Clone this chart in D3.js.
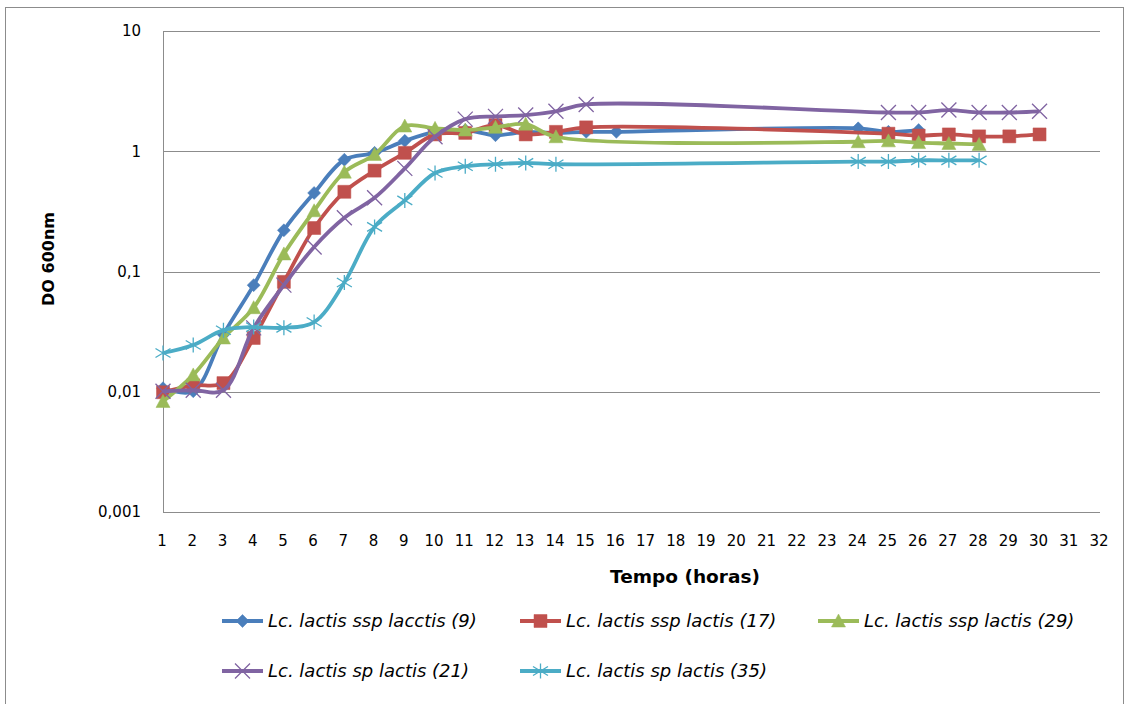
<!DOCTYPE html>
<html>
<head>
<meta charset="utf-8">
<script src="https://cdn.jsdelivr.net/npm/d3@7"></script>
<style>
  body { margin: 0; background: #fff; }
  svg { display: block; font-family: "DejaVu Sans", sans-serif; }
</style>
</head>
<body>
<div id="chart"></div>
<script>
// hours measured for each strain
const hoursBlue   = [1,2,3,4,5,6,7,8,9,10,11,12,13,14,15,16,24,25,26]
const hoursRed    = [1,2,3,4,5,6,7,8,9,10,11,12,13,14,15,25,26,27,28,29,30]
const hoursGreen  = [1,2,3,4,5,6,7,8,9,10,11,12,13,14,24,25,26,27,28]
const hoursPurple = [1,2,3,4,5,6,7,8,9,10,11,12,13,14,15,25,26,27,28,29,30]
const hoursCyan   = [1,2,3,4,5,6,7,8,9,10,11,12,13,14,24,25,26,27,28]

// DO 600nm readings
const doBlue   = [0.0107,0.0101,0.03,0.077,0.22,0.45,0.85,0.97,1.22,1.45,1.5,1.36,1.45,1.42,1.45,1.45,1.55,1.45,1.5]
const doRed    = [0.0099,0.0113,0.0118,0.028,0.082,0.23,0.46,0.69,0.97,1.38,1.42,1.65,1.38,1.45,1.58,1.4,1.35,1.38,1.33,1.33,1.38]
const doGreen  = [0.0083,0.0138,0.028,0.05,0.14,0.32,0.67,0.94,1.62,1.55,1.5,1.58,1.68,1.32,1.2,1.22,1.18,1.16,1.14]
const doPurple = [0.0101,0.0103,0.0103,0.034,0.077,0.16,0.28,0.41,0.72,1.32,1.85,1.95,2.0,2.15,2.45,2.1,2.1,2.2,2.1,2.1,2.15]
const doCyan   = [0.021,0.0245,0.0325,0.0345,0.034,0.038,0.081,0.235,0.39,0.66,0.75,0.78,0.8,0.78,0.82,0.82,0.84,0.84,0.84]

const seriesNames = [
  "Lc. lactis ssp lacctis (9)",
  "Lc. lactis ssp lactis (17)",
  "Lc. lactis ssp lactis (29)",
  "Lc. lactis sp lactis (21)",
  "Lc. lactis sp lactis (35)"
]
const seriesColors = ["#4a7ebb", "#c0504d", "#9bbb59", "#8064a2", "#4bacc6"]
const seriesMarkers = ["diamond", "square", "triangle", "cross", "star"]

const xTicks = d3.range(1, 33)
const yTicks = [0.001, 0.01, 0.1, 1, 10]
const yTickLabels = ["0,001", "0,01", "0,1", "1", "10"]

const allHours = [hoursBlue, hoursRed, hoursGreen, hoursPurple, hoursCyan]
const allDo = [doBlue, doRed, doGreen, doPurple, doCyan]

const series = seriesNames.map(function(name, i) {
  return {
    name: name,
    color: seriesColors[i],
    marker: seriesMarkers[i],
    points: allHours[i].map(function(h, j) { return {x: h, y: allDo[i][j]} })
  }
})

const width = 1129, height = 704
const margin = {top: 31, right: 29, bottom: 192, left: 163}

const x = d3.scaleLinear()
  .domain([1, 32])
  .range([margin.left, width - margin.right])

const y = d3.scaleLog()
  .domain([0.001, 10])
  .range([height - margin.bottom, margin.top])

const svg = d3.select("#chart").append("svg")
  .attr("width", width)
  .attr("height", height)

// outer chart border
svg.append("rect")
  .attr("x", 5.5)
  .attr("y", 7.5)
  .attr("width", 1118)
  .attr("height", 705)
  .style("fill", "none")
  .style("stroke", "#8c8c8c")
  .style("stroke-width", 1)

// horizontal gridlines
svg.append("g")
  .selectAll("line")
  .data(yTicks.slice(1))
  .enter().append("line")
    .attr("x1", x(1))
    .attr("x2", x(32))
    .attr("y1", function(d) { return Math.round(y(d)) + 0.5 })
    .attr("y2", function(d) { return Math.round(y(d)) + 0.5 })
    .style("stroke", "#8c8c8c")
    .style("stroke-width", 1)

// axes lines
svg.append("line")
  .attr("x1", x(1) + 0.5).attr("x2", x(1) + 0.5)
  .attr("y1", y(10)).attr("y2", y(0.001))
  .style("stroke", "#8c8c8c")
svg.append("line")
  .attr("x1", x(1)).attr("x2", x(32))
  .attr("y1", Math.round(y(0.001)) + 0.5).attr("y2", Math.round(y(0.001)) + 0.5)
  .style("stroke", "#8c8c8c")

// y tick labels
svg.append("g")
  .selectAll("text")
  .data(yTicks)
  .enter().append("text")
    .attr("x", 141)
    .attr("y", function(d) { return y(d) })
    .attr("dy", "0.36em")
    .attr("text-anchor", "end")
    .style("font-size", "15px")
    .style("fill", "#000")
    .text(function(d, i) { return yTickLabels[i] })

// x tick labels
svg.append("g")
  .selectAll("text")
  .data(xTicks)
  .enter().append("text")
    .attr("x", function(d) { return x(d) - 1 })
    .attr("y", 546)
    .attr("text-anchor", "middle")
    .style("font-size", "15px")
    .style("fill", "#000")
    .text(function(d) { return d })

// axis titles
svg.append("text")
  .attr("x", 685)
  .attr("y", 583)
  .attr("text-anchor", "middle")
  .style("font-size", "18.5px")
  .style("font-weight", "bold")
  .text("Tempo (horas)")

svg.append("text")
  .attr("transform", "translate(54,259) rotate(-90)")
  .attr("text-anchor", "middle")
  .style("font-size", "16px")
  .style("font-weight", "bold")
  .text("DO 600nm")

function markerPath(type, r) {
  if (type === "diamond") return "M0," + (-r) + "L" + r + ",0L0," + r + "L" + (-r) + ",0Z"
  if (type === "square") return "M" + (-r) + "," + (-r) + "h" + (2 * r) + "v" + (2 * r) + "h" + (-2 * r) + "Z"
  if (type === "triangle") return "M0," + (-r - 1) + "L" + (r + 1) + "," + r + "L" + (-r - 1) + "," + r + "Z"
  if (type === "cross") return "M" + (-r) + "," + (-r) + "L" + r + "," + r + "M" + (-r) + "," + r + "L" + r + "," + (-r)
  // star: cross plus vertical stroke
  return "M" + (-r) + "," + (-r * 0.6) + "L" + r + "," + (r * 0.6) + "M" + (-r) + "," + (r * 0.6) + "L" + r + "," + (-r * 0.6) + "M0," + (-r) + "L0," + r
}

function drawMarker(g, type, color) {
  const r = type === "diamond" ? 6.5 : type === "square" ? 6.5 : type === "triangle" ? 6 : 7.5
  const filled = type === "diamond" || type === "square" || type === "triangle"
  g.append("path")
    .attr("d", markerPath(type, r))
    .style("fill", filled ? color : "none")
    .style("stroke", color)
    .style("stroke-width", filled ? 0.5 : 1.3)
}

const line = d3.line()
  .x(function(d) { return x(d.x) })
  .y(function(d) { return y(d.y) })
  .curve(d3.curveCatmullRom.alpha(0.5))

const plot = svg.append("g")

series.forEach(function(s) {
  plot.append("path")
    .datum(s.points)
    .attr("d", line)
    .style("fill", "none")
    .style("stroke", s.color)
    .style("stroke-width", 3.8)
    .style("stroke-linejoin", "round")

  plot.append("g")
    .selectAll("g")
    .data(s.points)
    .enter().append("g")
      .attr("transform", function(d) { return "translate(" + x(d.x) + "," + y(d.y) + ")" })
      .each(function() { drawMarker(d3.select(this), s.marker, s.color) })
})

// legend
const legendPos = [
  {x: 222, y: 621}, {x: 520, y: 621}, {x: 818, y: 621},
  {x: 222, y: 671}, {x: 520, y: 671}
]

const legend = svg.append("g")
  .selectAll("g")
  .data(series)
  .enter().append("g")
    .attr("transform", function(d, i) { return "translate(" + legendPos[i].x + "," + legendPos[i].y + ")" })

legend.append("line")
  .attr("x1", 0).attr("x2", 41)
  .attr("y1", 0).attr("y2", 0)
  .style("stroke", function(d) { return d.color })
  .style("stroke-width", 3.8)

legend.append("g")
  .attr("transform", "translate(20.5,0)")
  .each(function(d) { drawMarker(d3.select(this), d.marker, d.color) })

legend.append("text")
  .attr("x", 46)
  .attr("y", 0)
  .attr("dy", "0.36em")
  .style("font-size", "18px")
  .style("font-style", "italic")
  .text(function(d) { return d.name })
</script>
</body>
</html>
